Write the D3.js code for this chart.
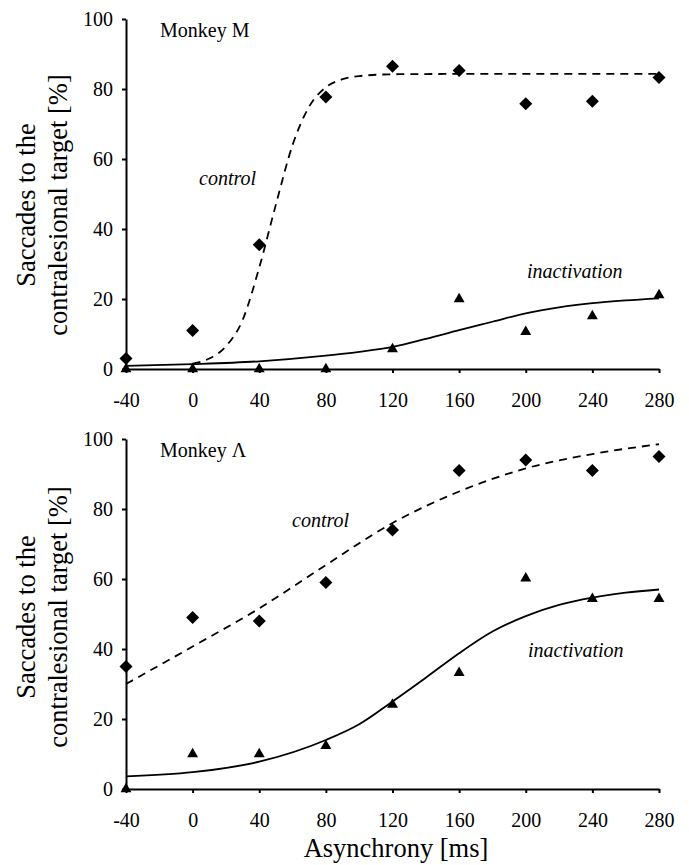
<!DOCTYPE html>
<html>
<head>
<meta charset="utf-8">
<script src="https://cdn.jsdelivr.net/npm/d3@7"></script>
<style>
  body { margin: 0; background: #fff; }
</style>
</head>
<body>
<svg id="chart"></svg>
<script>
// asynchrony values (ms) and tick labels
var asynchrony = [-40, 0, 40, 80, 120, 160, 200, 240, 280],
    xTicks = [-40, 0, 40, 80, 120, 160, 200, 240, 280],
    yTicks = [0, 20, 40, 60, 80, 100];

// Monkey M, % saccades to contralesional target
var mControl = [3, 11, 35.5, 77.7, 86.5, 85.3, 75.8, 76.5, 83.3],
    mInact = [0, 0, 0, 0, 5.7, 20, 10.6, 15.1, 21.1];
// fitted curves
var mControlFitX = [0, 10, 20, 30, 40, 50, 60, 70, 80, 90, 100, 120, 160, 200, 240, 280],
    mControlFitY = [1.5, 3, 6.5, 14, 29, 47, 64, 75, 80.5, 82.8, 83.7, 84.2, 84.3, 84.3, 84.3, 84.3],
    mInactFitX = [-40, 0, 40, 80, 100, 120, 140, 160, 180, 200, 220, 240, 260, 280],
    mInactFitY = [0.9, 1.4, 2.2, 3.8, 4.9, 6.3, 8.6, 11.1, 13.5, 15.9, 17.6, 18.8, 19.6, 20.2];

// Monkey A
var aControl = [35, 49, 48, 59, 74, 91, 94, 91, 95],
    aInact = [0, 10, 10, 12.3, 24.1, 33.2, 60.2, 54.3, 54.3];
var aControlFitX = [-40, 0, 40, 80, 120, 160, 200, 240, 280],
    aControlFitY = [30, 40.7, 51.6, 64, 76, 85, 91.6, 95.7, 98.5],
    aInactFitX = [-40, 0, 40, 80, 100, 120, 140, 160, 180, 200, 220, 240, 260, 280],
    aInactFitY = [3.6, 4.8, 7.8, 14, 18.5, 25, 31.8, 38.8, 45, 49.4, 52.6, 54.7, 56.1, 57];

var W = 689, H = 865,
    serif = '"Liberation Serif", "Times New Roman", Times, serif';
var svg = d3.select('#chart').attr('width', W).attr('height', H);

var x = d3.scaleLinear().domain([-40, 280]).range([126, 659]);

var zip = function(xs, ys) {
    return xs.map(function(d, i) { return [d, ys[i]]; });
};

var label = function(g, txt, size, italic) {
    return g.append('text').text(txt)
        .style('font-family', serif)
        .style('font-size', size + 'px')
        .style('font-style', italic ? 'italic' : 'normal')
        .attr('fill', '#000');
};

var drawPanel = function(opt) {
    var y = d3.scaleLinear().domain([0, 100]).range([opt.bottom, opt.bottom - 350]);
    var g = svg.append('g');

    var line = d3.line()
        .x(function(d) { return x(d[0]); })
        .y(function(d) { return y(d[1]); })
        .curve(d3.curveMonotoneX);

    // fitted curves
    g.append('path').datum(zip(opt.cFitX, opt.cFitY))
        .attr('d', line).attr('fill', 'none').attr('stroke', '#000')
        .attr('stroke-width', 1.8).attr('stroke-dasharray', '8,6');
    g.append('path').datum(zip(opt.iFitX, opt.iFitY))
        .attr('d', line).attr('fill', 'none').attr('stroke', '#000')
        .attr('stroke-width', 1.8);

    // axes
    var fmt = function(d) { return String(d); };
    var xAxis = d3.axisBottom(x).tickValues(xTicks).tickFormat(fmt)
        .tickSize(4).tickSizeOuter(0).tickPadding(20);
    var yAxis = d3.axisLeft(y).tickValues(yTicks).tickFormat(fmt)
        .tickSize(4).tickSizeOuter(0).tickPadding(9);
    var gx = g.append('g').attr('transform', 'translate(0,' + opt.bottom + ')').call(xAxis);
    var gy = g.append('g').attr('transform', 'translate(' + x(-40) + ',0)').call(yAxis);
    [gx, gy].forEach(function(a) {
        a.attr('font-family', serif).attr('font-size', 20);
        a.selectAll('path, line').attr('stroke', '#000').attr('stroke-width', 2);
        a.selectAll('text').style('font-family', serif).style('font-size', '20px').attr('fill', '#000');
    });

    // data points
    g.selectAll('.dia').data(zip(asynchrony, opt.control)).enter()
        .append('path')
        .attr('d', d3.symbol().type(d3.symbolSquare).size(85))
        .attr('transform', function(d) {
            return 'translate(' + x(d[0]) + ',' + y(d[1]) + ') rotate(45)';
        })
        .attr('fill', '#000');
    g.selectAll('.tri').data(zip(asynchrony, opt.inact)).enter()
        .append('path')
        .attr('d', d3.symbol().type(d3.symbolTriangle).size(52))
        .attr('transform', function(d) {
            return 'translate(' + x(d[0]) + ',' + y(d[1]) + ')';
        })
        .attr('fill', '#000');

    // labels
    label(g, opt.name, 20, false).attr('x', 160).attr('y', opt.bottom - 332);
    label(g, 'control', 20, true).attr('x', opt.cLab[0]).attr('y', opt.cLab[1]);
    label(g, 'inactivation', 20, true).attr('x', opt.iLab[0]).attr('y', opt.iLab[1]);

    var t = label(g, '', 26.5, false).attr('text-anchor', 'middle')
        .attr('transform', 'translate(0,' + opt.titleY + ') rotate(-90)');
    t.append('tspan').attr('x', 0).attr('y', 35).text('Saccades to the');
    t.append('tspan').attr('x', 0).attr('y', 67).text('contralesional target [%]');
};

drawPanel({
    bottom: 369, name: 'Monkey M',
    control: mControl, inact: mInact,
    cFitX: mControlFitX, cFitY: mControlFitY,
    iFitX: mInactFitX, iFitY: mInactFitY,
    cLab: [199, 185], iLab: [527, 278], titleY: 205
});

drawPanel({
    bottom: 789, name: 'Monkey \u039B',
    control: aControl, inact: aInact,
    cFitX: aControlFitX, cFitY: aControlFitY,
    iFitX: aInactFitX, iFitY: aInactFitY,
    cLab: [292, 527], iLab: [528, 657], titleY: 617
});

label(svg, 'Asynchrony [ms]', 26.5, false)
    .attr('x', 396).attr('y', 857).attr('text-anchor', 'middle');
</script>
</body>
</html>
